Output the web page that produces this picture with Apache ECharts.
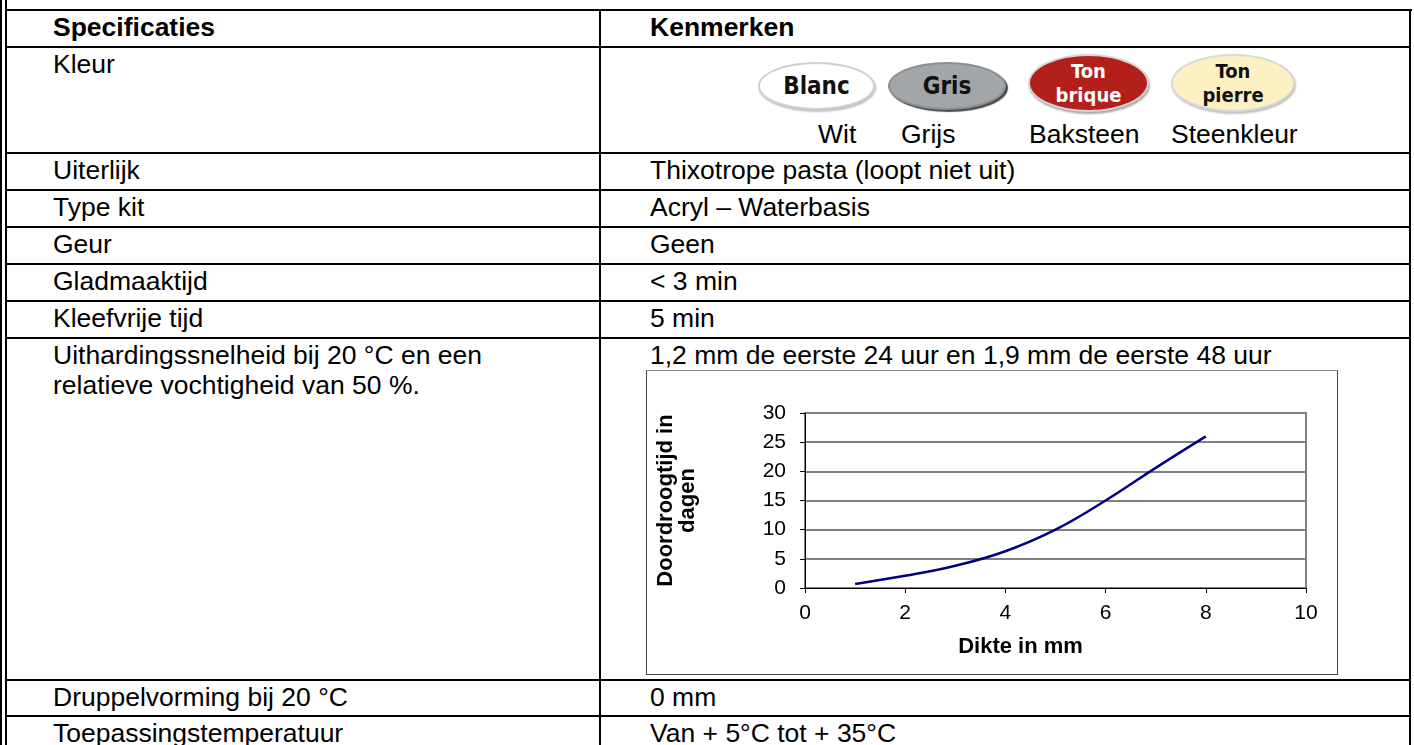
<!DOCTYPE html>
<html>
<head>
<meta charset="utf-8">
<script src="https://cdn.jsdelivr.net/npm/echarts@6/dist/echarts.min.js"></script>
<style>
  html,body{margin:0;padding:0;background:#fff;}
  body{width:1414px;height:745px;position:relative;overflow:hidden;font-family:'Liberation Sans',Arial,sans-serif;color:#000;}
  .ln{position:absolute;background:#000;}
  .tx{position:absolute;font-size:26.5px;line-height:30px;white-space:nowrap;}
  .b{font-weight:bold;}
  .badge{position:absolute;border-radius:50%;box-sizing:border-box;display:flex;align-items:center;justify-content:center;text-align:center;
    font-family:'Liberation Sans Narrow','DejaVu Sans Condensed','Liberation Sans',sans-serif;font-weight:bold;}
  #box{position:absolute;left:646px;top:370px;width:692px;height:305px;box-sizing:border-box;border:1px solid #444;border-top-color:#888;}
  #chart{position:absolute;left:647px;top:371px;width:690px;height:303px;}
</style>
</head>
<body>
<div id="table"></div>
<div id="box"></div>
<div id="chart"></div>
<script>
// ---- data ----
const headerLabels = ['Specificaties', 'Kenmerken'];
const specNames = ['Kleur', 'Uiterlijk', 'Type kit', 'Geur', 'Gladmaaktijd', 'Kleefvrije tijd',
  'Uithardingssnelheid bij 20 °C en een\nrelatieve vochtigheid van 50 %.', 'Druppelvorming bij 20 °C', 'Toepassingstemperatuur'];
const specValues = ['', 'Thixotrope pasta (loopt niet uit)', 'Acryl – Waterbasis', 'Geen', '< 3 min', '5 min',
  '1,2 mm de eerste 24 uur en 1,9 mm de eerste 48 uur', '0 mm', 'Van + 5°C tot + 35°C'];
const badgeTexts = ['Blanc', 'Gris', 'Ton\nbrique', 'Ton\npierre'];
const colourNames = ['Wit', 'Grijs', 'Baksteen', 'Steenkleur'];
const thicknessMm = [1, 2, 3, 4, 5, 6, 7, 8];
const dryingDays = [0.7, 2.1, 3.8, 6.3, 10, 15, 20.6, 26];
const xAxisTitle = 'Dikte in mm';
const yAxisTitle = 'Doordroogtijd in\ndagen';

// ---- layout (table) ----
const rowTops = [47, 153, 190, 227, 264, 301, 338, 680, 716];
const tbl = document.getElementById('table');
function line(x, y, w, h) { const d = document.createElement('div'); d.className = 'ln';
  Object.assign(d.style, {left: x + 'px', top: y + 'px', width: w + 'px', height: h + 'px'}); tbl.appendChild(d); }
function text(str, x, y, bold) { const d = document.createElement('div'); d.className = 'tx' + (bold ? ' b' : '');
  d.style.left = x + 'px'; d.style.top = y + 'px'; d.innerHTML = str.split('\n').map(s => s.replace(/</g, '&lt;')).join('<br>'); tbl.appendChild(d); }
line(0, 0, 2, 745); line(5, 0, 2, 745);
line(5, 9, 1407, 2); line(1409, 9, 2, 736);
line(599, 9, 2, 736);
line(5, 46, 1406, 2);
[152, 189, 226, 263, 300, 337, 679, 715].forEach(y => line(5, y, 1406, 2));
text(headerLabels[0], 53, 12, true); text(headerLabels[1], 650, 12, true);
specNames.forEach((n, i) => { text(n, 53, rowTops[i] + 2); if (specValues[i]) text(specValues[i], 650, rowTops[i] + 2); });

// badges
const badgeBoxes = [[758, 62, 117, 48], [888, 62, 118, 48], [1028, 54, 121, 58], [1171, 54, 124, 58]];
const badgeStyles = [
  {background: '#ffffff', border: '2px solid #cfcfcf', color: '#111', boxShadow: '1px 2px 2px rgba(0,0,0,0.25)', fontSize: '24px', lineHeight: '26px'},
  {background: '#a3a6a9', border: '2px solid #8c8f92', color: '#111', boxShadow: '2px 2px 1px #4a4a4a', fontSize: '24px', lineHeight: '26px'},
  {background: '#b31f1a', border: '2px solid #d5d5d5', color: '#fff', boxShadow: '1px 2px 2px rgba(0,0,0,0.35)', fontSize: '20px', lineHeight: '24px'},
  {background: '#fdf0c2', border: '2px solid #d8d8d8', color: '#111', boxShadow: '1px 2px 2px rgba(0,0,0,0.25)', fontSize: '20px', lineHeight: '24px'}
];
badgeTexts.forEach((t, i) => {
  const d = document.createElement('div'); d.className = 'badge';
  const [x, y, w, h] = badgeBoxes[i];
  Object.assign(d.style, {left: x + 'px', top: y + 'px', width: w + 'px', height: h + 'px'}, badgeStyles[i]);
  d.innerHTML = '<div>' + t.split('\n').join('<br>') + '</div>'; tbl.appendChild(d);
});
const labelX = [818, 901, 1029, 1171];
colourNames.forEach((n, i) => text(n, labelX[i], 119));

// ---- chart ----
const chart = echarts.init(document.getElementById('chart'), null, {renderer: 'canvas'});
chart.setOption({
  animation: false,
  grid: {left: 151, top: 42, right: 31, bottom: 86, show: true, borderColor: '#808080', borderWidth: 2},
  xAxis: {
    type: 'value', min: 0, max: 10, interval: 2,
    name: xAxisTitle, nameLocation: 'middle', nameGap: 48,
    nameTextStyle: {fontFamily: 'Liberation Sans', fontWeight: 'bold', fontSize: 22, color: '#000', padding: [0, 70, 0, 0]},
    axisLine: {show: true, onZero: false, lineStyle: {color: '#000', width: 1}},
    axisTick: {show: true, length: 5, lineStyle: {color: '#000'}},
    axisLabel: {margin: 15, fontFamily: 'Liberation Sans', fontSize: 21, color: '#000'},
    splitLine: {show: false}
  },
  yAxis: {
    type: 'value', min: 0, max: 30, interval: 5,
    name: yAxisTitle, nameLocation: 'middle', nameGap: 106, nameRotate: 90,
    nameTextStyle: {fontFamily: 'Liberation Sans', fontWeight: 'bold', fontSize: 22, lineHeight: 22, color: '#000', padding: [0, 0, 0, 0]},
    axisLine: {show: true, onZero: false, lineStyle: {color: '#000', width: 1}},
    axisTick: {show: true, length: 5, lineStyle: {color: '#000'}},
    axisLabel: {margin: 19, fontFamily: 'Liberation Sans', fontSize: 21, color: '#000'},
    splitLine: {show: true, lineStyle: {color: '#808080', width: 2}}
  },
  series: [{
    type: 'line', smooth: 0.4, showSymbol: false,
    data: thicknessMm.map((x, i) => [x, dryingDays[i]]),
    lineStyle: {color: '#000080', width: 2.5}
  }]
});
</script>
</body>
</html>
